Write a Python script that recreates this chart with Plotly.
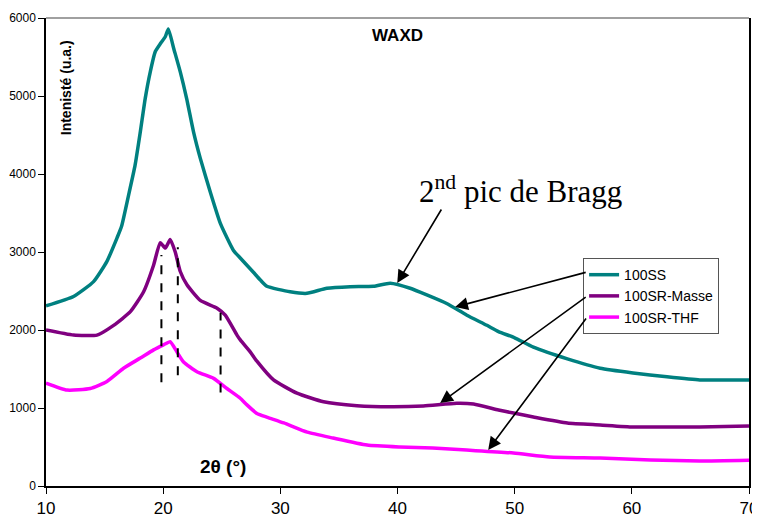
import plotly.graph_objects as go

# values (2-theta in degrees, intensity in a.u.)
ss_x = [10, 12.35, 14.06, 15.2, 16.06, 16.45, 17.05, 17.6, 18.05, 18.47, 18.9, 19.33, 19.8,
        20.18, 20.44, 20.9, 21.46, 22.0, 22.59, 23.17, 24.02, 24.9, 26.0, 26.6, 27.15, 27.7,
        28.3, 28.85, 30.84, 32.27, 33.97, 35.96, 37.95, 39.38, 41.08, 42.5, 44.2, 45.92,
        47.63, 48.62, 50.0, 51.6, 54.5, 57.3, 60.1, 63.0, 65.8, 68.6, 70]
ss_y = [2310, 2430, 2620, 2880, 3180, 3330, 3730, 4110, 4540, 4970, 5310, 5570, 5680,
        5760, 5860, 5610, 5310, 4970, 4540, 4200, 3770, 3360, 3020, 2920, 2830, 2740,
        2640, 2560, 2490, 2470, 2535, 2555, 2560, 2600, 2535, 2450, 2340, 2190,
        2060, 1980, 1900, 1780, 1630, 1510, 1450, 1400, 1360, 1360, 1360]

masse_x = [10, 12.35, 14.35, 15.77, 17.2, 18.33, 19.18, 19.75, 20.18, 20.6, 21.03, 21.46,
           22.03, 23.17, 24.6, 25.3, 26.3, 26.6, 27.43, 28.0, 29.42, 31.42, 33.69, 36.54,
           39.38, 42.22, 45.07, 46.49, 48.62, 49.9, 51.6, 54.5, 57.3, 60.1, 63.0, 65.8, 70]
masse_y = [2000, 1935, 1935, 2060, 2235, 2490, 2830, 3120, 3050, 3160, 3000, 2750,
           2580, 2380, 2280, 2190, 1935, 1870, 1720, 1600, 1360, 1190, 1080, 1030,
           1015, 1025, 1060, 1050, 975, 935, 885, 808, 782, 756, 756, 756, 770]

thf_x = [10, 11.8, 13.78, 15.2, 16.62, 18.05, 19.18, 20.03, 20.6, 21.17, 21.74, 22.88, 24.3,
         25.44, 26.58, 27.15, 28.0, 28.9, 30.3, 32.3, 34.5, 37.4, 40.2, 43.0, 45.9, 49.9,
         53.0, 57.3, 61.6, 65.8, 70]
thf_y = [1320, 1230, 1250, 1340, 1510, 1640, 1745, 1810, 1850, 1720, 1590, 1465, 1380,
         1250, 1125, 1040, 930, 880, 808, 690, 615, 525, 500, 487, 460, 423,
         372, 359, 333, 320, 330]

# dashed marker lines: x, bottom, top
dash_x = [19.85, 21.25, 24.9]
dash_lo = [1330, 1420, 1200]
dash_hi = [2960, 3060, 2220]

fig = go.Figure()

fig.add_trace(go.Scatter(x=ss_x, y=ss_y, mode='lines', name='100SS',
                         line=dict(color='#008080', width=3.5, shape='spline', smoothing=0.5)))
fig.add_trace(go.Scatter(x=masse_x, y=masse_y, mode='lines', name='100SR-Masse',
                         line=dict(color='#800080', width=3.5, shape='spline', smoothing=0.5)))
fig.add_trace(go.Scatter(x=thf_x, y=thf_y, mode='lines', name='100SR-THF',
                         line=dict(color='#FF00FF', width=3.5, shape='spline', smoothing=0.5)))

for xv, lo, hi in zip(dash_x, dash_lo, dash_hi):
    fig.add_trace(go.Scatter(x=[xv, xv], y=[lo, hi], mode='lines', showlegend=False,
                             line=dict(color='black', width=2, dash='dash')))

# top border of the plot area
fig.add_shape(type='line', xref='paper', yref='paper', x0=0, x1=1, y0=1, y1=1,
              line=dict(color='#808080', width=1.5))

arrow = dict(showarrow=True, arrowhead=2, arrowsize=1.6, arrowwidth=1.6, arrowcolor='black',
             axref='x', ayref='y', text='')
fig.add_annotation(x=39.98, y=2603, ax=43.82, ay=3564, **arrow)
fig.add_annotation(x=44.92, y=2295, ax=56.19, ay=2744, **arrow)
fig.add_annotation(x=43.64, y=1064, ax=56.19, ay=2436, **arrow)
fig.add_annotation(x=47.74, y=462, ax=56.19, ay=2167, **arrow)

fig.add_annotation(x=40, y=5782, text='<b>WAXD</b>', showarrow=False,
                   font=dict(family='Liberation Sans', size=17, color='black'))
fig.add_annotation(x=11.73, y=5103, text='<b>Intenisté (u.a.)</b>', showarrow=False,
                   textangle=-90, font=dict(family='Liberation Sans', size=14, color='black'))
fig.add_annotation(x=25.14, y=244, text='<b>2θ (°)</b>', showarrow=False,
                   font=dict(family='Liberation Sans', size=19, color='black'))
fig.add_annotation(x=50.47, y=3795, text='2<sup>nd</sup> pic de Bragg', showarrow=False,
                   font=dict(family='Liberation Serif', size=31, color='black'))

# page body adds an 8px margin, so the figure is a bit smaller than the window
fig.update_layout(
    width=752, height=514,
    margin=dict(l=38, r=11, t=10, b=36),
    plot_bgcolor='white', paper_bgcolor='white',
    font=dict(family='Liberation Sans', color='black'),
    legend=dict(x=0.764, y=0.487, xanchor='left', yanchor='top',
                bgcolor='white', bordercolor='#555555', borderwidth=1,
                font=dict(size=14), tracegroupgap=0),
)
fig.update_xaxes(range=[10, 70], tickvals=[10, 20, 30, 40, 50, 60, 70], automargin=False,
                 showgrid=False, zeroline=False, showline=True, linecolor='black', linewidth=1.5,
                 ticks='outside', ticklen=6, tickcolor='black', tickfont=dict(size=17))
fig.update_yaxes(range=[0, 6000], tickvals=[0, 1000, 2000, 3000, 4000, 5000, 6000],
                 automargin=False,
                 showgrid=False, zeroline=False, showline=True, linecolor='black', linewidth=1.5,
                 mirror=True, ticks='outside', ticklen=6, tickcolor='black', tickfont=dict(size=12))

fig.write_html("out.html")
